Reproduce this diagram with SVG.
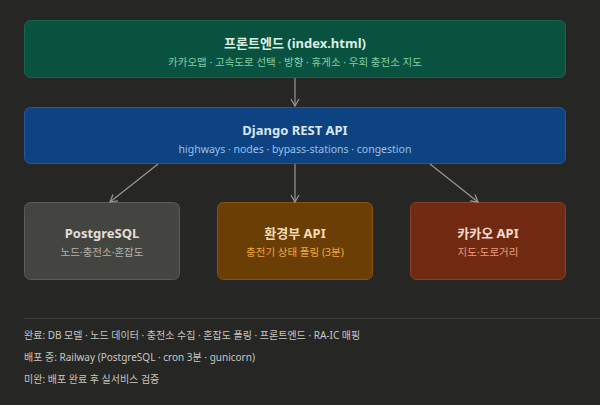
<svg xmlns="http://www.w3.org/2000/svg" width="600" height="405" viewBox="0 0 600 405">
<defs>
<marker id="ah" markerWidth="10" markerHeight="10" refX="8" refY="5" orient="auto" markerUnits="userSpaceOnUse"><path d="M1,1 L8,5 L1,9" fill="none" stroke="#9a9894" stroke-width="1.2"/></marker>
<style>
text{font-family:"Noto Sans","Noto Sans CJK KR",sans-serif;text-anchor:middle}
.t{font-size:13px;font-weight:bold}
.s{font-size:10.5px}
.n{font-size:10px;fill:#c8c6c0;text-anchor:start}
.c{stroke:#9a9894;stroke-width:1.2;fill:none;marker-end:url(#ah)}
</style>
</defs>
<rect width="600" height="405" fill="#262625"/>
<g id="frontend"><rect x="24.5" y="20.5" width="541" height="57" rx="6" fill="#0a5240" stroke="#17674f"/>
<text class="t" x="295" y="48" fill="#d9efe4">프론트엔드 (index.html)</text>
<text class="s" x="295" y="66" fill="#7fd0a8">카카오맵 · 고속도로 선택 · 방향 · 휴게소 · 우회 충전소 지도</text></g>
<g id="django"><rect x="24.5" y="107.5" width="541" height="56" rx="6" fill="#0c4380" stroke="#275a94"/>
<text class="t" x="295" y="135" fill="#dbe6f5">Django REST API</text>
<text class="s" x="295" y="153" fill="#9cc0ea">highways · nodes · bypass-stations · congestion</text></g>
<g id="postgres"><rect x="24.5" y="202.5" width="155" height="77" rx="6" fill="#444441" stroke="#5c5c58"/>
<text class="t" x="102" y="238" fill="#e0ded8">PostgreSQL</text>
<text class="s" x="102" y="256" fill="#b4b2ac">노드·충전소·혼잡도</text></g>
<g id="env"><rect x="217.5" y="202.5" width="155" height="77" rx="6" fill="#6b3e05" stroke="#875411"/>
<text class="t" x="295" y="238" fill="#f4dcb4">환경부 API</text>
<text class="s" x="295" y="256" fill="#f0a838">충전기 상태 폴링 (3분)</text></g>
<g id="kakao"><rect x="410.5" y="202.5" width="155" height="77" rx="6" fill="#702a12" stroke="#8a4028"/>
<text class="t" x="488" y="238" fill="#f6d8cc">카카오 API</text>
<text class="s" x="488" y="256" fill="#ef9a80">지도·도로거리</text></g>
<g id="connectors">
<path class="c" d="M295,78 V106"/>
<path class="c" d="M158,164 L110,202"/>
<path class="c" d="M295,164 V202"/>
<path class="c" d="M430,164 L478,202"/>
</g>
<line x1="24" y1="318.5" x2="600" y2="318.5" stroke="#3c3c3a"/>
<text class="n" x="24" y="339">완료: DB 모델 · 노드 데이터 · 충전소 수집 · 혼잡도 폴링 · 프론트엔드 · RA-IC 매핑</text>
<text class="n" x="24" y="361">배포 중: Railway (PostgreSQL · cron 3분 · gunicorn)</text>
<text class="n" x="24" y="383">미완: 배포 완료 후 실서비스 검증</text>
</svg>
